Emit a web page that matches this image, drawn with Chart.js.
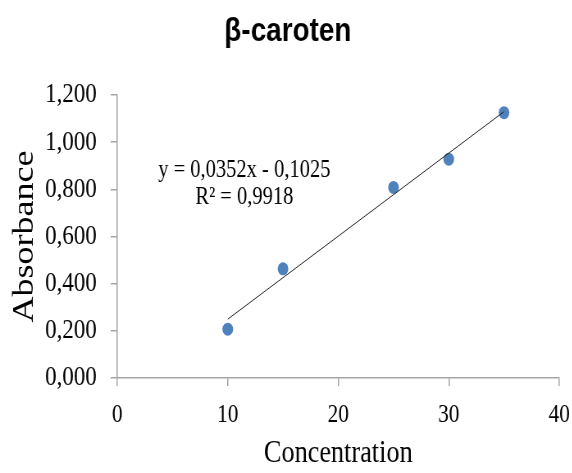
<!DOCTYPE html>
<html>
<head>
<meta charset="utf-8">
<script src="https://cdn.jsdelivr.net/npm/chart.js@4/dist/chart.umd.min.js"></script>
<style>
  html, body { margin: 0; padding: 0; background: #fff; overflow: hidden; }
  /* the reference is squeezed sideways, so draw wider and squeeze it the same way */
  #wrap { width: 698px; height: 473px; transform: scaleX(0.82); transform-origin: 0 0; }
</style>
</head>
<body>
<div id="wrap"><canvas id="chart" width="698" height="473"></canvas></div>
<script>
const concentration = [10, 15, 25, 30, 35];
const absorbance = [0.207, 0.463, 0.808, 0.928, 1.125];
const slope = 0.0352;
const intercept = -0.1025;
const trendRange = [10, 35];
const xTicks = [0, 10, 20, 30, 40];
const yTicks = [0, 0.2, 0.4, 0.6, 0.8, 1.0, 1.2];
const yTickLabels = ['0,000', '0,200', '0,400', '0,600', '0,800', '1,000', '1,200'];
const titleText = '\u03B2-caroten';
const equationLines = ['y = 0,0352x - 0,1025', 'R\u00B2 = 0,9918'];

const axisGray = '#a6a6a6';
const serif = "'Liberation Serif', 'DejaVu Serif', serif";

let points = concentration.map((c, i) => ({ x: c, y: absorbance[i] }));
let trend = trendRange.map(x => ({ x: x, y: slope * x + intercept }));

// chart title and the trendline equation
const labels = {
  id: 'labels',
  afterDatasetsDraw(chart) {
    let ctx = chart.ctx;
    let xs = chart.scales.x;
    let ys = chart.scales.y;
    ctx.save();
    ctx.fillStyle = '#000';
    ctx.textAlign = 'center';
    ctx.textBaseline = 'middle';
    ctx.font = "bold 34px 'Liberation Sans', Arial, sans-serif";
    ctx.fillText(titleText, 351, 32);
    ctx.font = '25px ' + serif;
    ctx.fillText(equationLines[0], xs.getPixelForValue(11.5), ys.getPixelForValue(0.88));
    ctx.fillText(equationLines[1], xs.getPixelForValue(11.5), ys.getPixelForValue(0.766));
    ctx.restore();
  }
};

let chart = new Chart(document.getElementById('chart'), {
  type: 'scatter',
  data: {
    datasets: [
      {
        type: 'line',
        data: trend,
        borderColor: '#222',
        borderWidth: 1,
        pointRadius: 0,
        fill: false,
        order: 0
      },
      {
        data: points,
        backgroundColor: '#4f81bd',
        borderWidth: 0,
        pointRadius: 6.5,
        order: 1
      }
    ]
  },
  options: {
    responsive: false,
    animation: false,
    layout: { padding: { left: 0, right: 16, top: 95, bottom: 0 } },
    plugins: {
      legend: { display: false },
      tooltip: { enabled: false },
      title: { display: false }
    },
    scales: {
      x: {
        type: 'linear',
        min: 0,
        max: 40,
        afterBuildTicks(scale) { scale.ticks = xTicks.map(v => ({ value: v })); },
        afterFit(scale) {
          scale.height = 95;
          scale.paddingLeft = 0;
          scale.paddingRight = 0;
        },
        grid: { drawOnChartArea: false, drawTicks: true, tickLength: 8, color: axisGray, lineWidth: 1.5 },
        border: { color: axisGray, width: 1.5 },
        ticks: { color: '#000', padding: 14, font: { family: serif, size: 26 } },
        title: {
          display: true,
          text: 'Concentration',
          color: '#000',
          font: { family: serif, size: 32 },
          padding: { top: 6, bottom: 0 }
        }
      },
      y: {
        type: 'linear',
        min: 0,
        max: 1.2,
        afterBuildTicks(scale) { scale.ticks = yTicks.map(v => ({ value: v })); },
        afterFit(scale) {
          scale.width = 143;
          scale.paddingTop = 0;
          scale.paddingBottom = 0;
        },
        grid: { drawOnChartArea: false, drawTicks: true, tickLength: 8, color: axisGray, lineWidth: 1.5 },
        border: { color: axisGray, width: 1.5 },
        ticks: {
          color: '#000',
          padding: 17,
          font: { family: serif, size: 28 },
          callback: function (value, index) { return yTickLabels[index]; }
        },
        title: {
          display: true,
          text: 'Absorbance',
          color: '#000',
          font: { family: serif, size: 36 },
          padding: { top: 9, bottom: 0 }
        }
      }
    }
  },
  plugins: [labels]
});
</script>
</body>
</html>
